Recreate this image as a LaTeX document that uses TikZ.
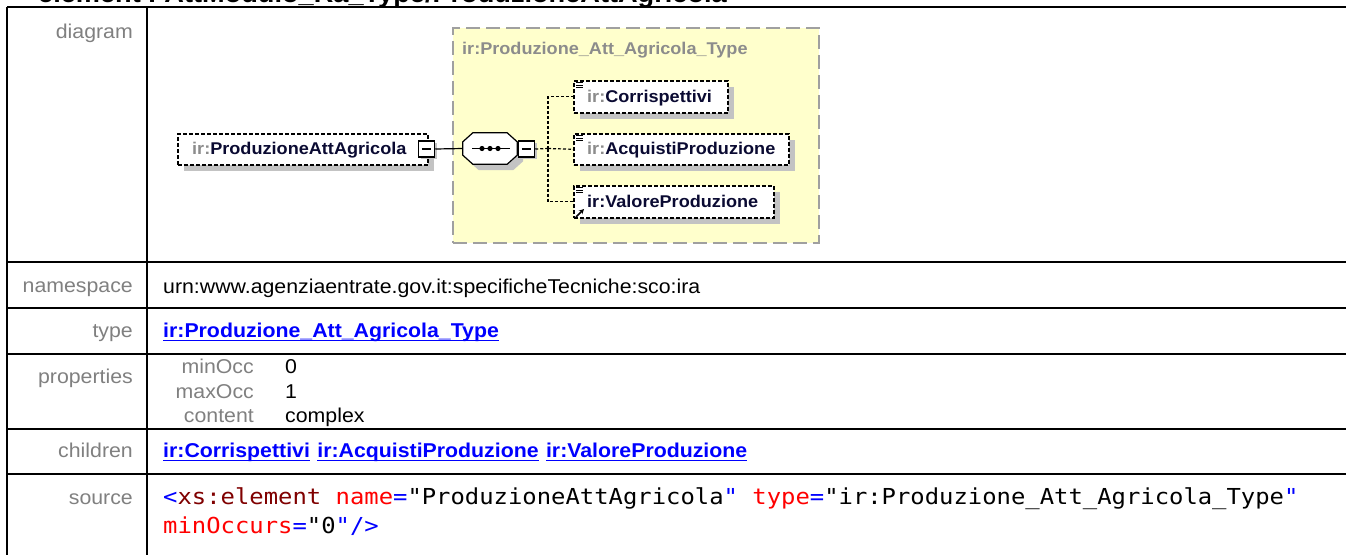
\documentclass[tikz,border=0pt]{standalone}
\usepackage{fontspec}
\usepackage{graphicx}
\setmainfont{Liberation Sans}
\setmonofont{DejaVu Sans Mono}
\usetikzlibrary{shadows,calc,arrows.meta}
\definecolor{lblgray}{RGB}{128,128,128}
\definecolor{linkblue}{RGB}{0,0,255}
\definecolor{navy}{RGB}{10,10,50}
\definecolor{irgray}{RGB}{140,140,140}
\definecolor{ctfill}{RGB}{255,255,204}
\definecolor{ctborder}{RGB}{160,160,160}
\definecolor{shadowc}{RGB}{195,195,195}
\definecolor{xmaroon}{RGB}{128,0,0}
\definecolor{xred}{RGB}{255,0,0}
\newcommand\sx[1]{\scalebox{1.065}[1]{#1}}
\newcommand\sxc[1]{\scalebox{1.085}[1]{#1}}
\tikzset{
  grid/.style={line width=2pt, black},
  lbl/.style={anchor=mid east, inner sep=0, text=lblgray, font=\fontsize{20}{24}\selectfont},
  val/.style={anchor=mid west, inner sep=0, font=\fontsize{20}{24}\selectfont},
  link/.style={anchor=mid west, inner sep=0, text=linkblue, font=\fontsize{20}{24}\selectfont\bfseries},
  uline/.style={linkblue, line width=1.6pt},
  code/.style={anchor=mid west, inner sep=0, font=\fontsize{22}{28}\ttfamily},
  elbox/.style={draw, dash pattern=on 4pt off 2pt, line width=1.5pt, fill=white, inner sep=0,
     drop shadow={shadow xshift=6pt, shadow yshift=-6pt, fill=shadowc, opacity=1}},
  eltext/.style={anchor=mid west, inner sep=0, font=\fontsize{17}{20}\selectfont\bfseries, text=navy},
  minusbox/.style={draw, line width=1.5pt, fill=white, minimum width=16pt, minimum height=16pt, inner sep=0,
     drop shadow={shadow xshift=2pt, shadow yshift=-2pt, fill=shadowc, opacity=1}},
  conn/.style={line width=1.2pt},
  dconn/.style={line width=1.2pt, dash pattern=on 3pt off 2pt},
  icon/.style={line width=0.9pt},
}
\begin{document}
\begin{tikzpicture}[x=1pt,y=-1pt]
\useasboundingbox (0,0) rectangle (1346,555);
\fill[white] (0,0) rectangle (1346,555);
% clipped title
\begin{scope}
\clip (0,0) rectangle (1346,555);
\node[anchor=base west, inner sep=0, font=\fontsize{25.5}{30}\selectfont\bfseries] (ttl) at (38,2.5) {\sx{element PAttModulo\_Ra\_Type/ProduzioneAttAgricola}};
\end{scope}
% table grid
\draw[grid] (7,7) -- (1346,7);
\draw[grid] (7,7) -- (7,555);
\draw[grid] (147,7) -- (147,555);
\foreach \yy in {262,308,354,429,474} \draw[grid] (7,\yy) -- (1346,\yy);
% labels
\node[lbl] (ldiag) at (133,36) {\sx{diagram}};
\node[lbl] (lns) at (133,290) {\sx{namespace}};
\node[lbl] (ltype) at (133,335) {\sx{type}};
\node[lbl] (lprop) at (133,381) {\sx{properties}};
\node[lbl] (lchild) at (133,455) {\sx{children}};
\node[lbl] (lsrc) at (133,502) {\sx{source}};
% values
\node[val] (vns) at (163,291) {\sx{urn:www.agenziaentrate.gov.it:specificheTecniche:sco:ira}};
\node[link] (vtype) at (163,335) {\sx{ir:Produzione\_Att\_Agricola\_Type}};
\draw[uline] ([yshift=-3pt]vtype.base west) -- ([yshift=-3pt]vtype.base east);
\node[lbl] (pmin) at (254,371) {\sx{minOcc}};
\node[val] (vmin) at (285,371) {\sx{0}};
\node[lbl] (pmax) at (254,396) {\sx{maxOcc}};
\node[val] (vmax) at (285,396) {\sx{1}};
\node[lbl] (pcont) at (254,420) {\sx{content}};
\node[val] (vcont) at (285,420) {\sx{complex}};
\node[link] (k1) at (163,455) {\sx{ir:Corrispettivi}};
\node[link, anchor=base west] (k2) at ([xshift=7pt]k1.base east) {\sx{ir:AcquistiProduzione}};
\node[link, anchor=base west] (k3) at ([xshift=7pt]k2.base east) {\sx{ir:ValoreProduzione}};
\foreach \k in {k1,k2,k3} \draw[uline] ([yshift=-3pt]\k.base west) -- ([yshift=-3pt]\k.base east);
\node[code] (src1) at (163,502) {\sxc{{\color{linkblue}<}{\color{xmaroon}xs:element} {\color{xred}name}{\color{linkblue}=}"ProduzioneAttAgricola{\color{linkblue}"} {\color{xred}type}{\color{linkblue}=}"ir:Produzione\_Att\_Agricola\_Type{\color{linkblue}"}}};
\node[code] (src2) at (163,531) {\sxc{{\color{xred}minOccurs}{\color{linkblue}=}"0{\color{linkblue}"/>}}};
% diagram: complex type container
\node[draw=ctborder, fill=ctfill, dash pattern=on 14pt off 6pt, line width=1.5pt, minimum width=366pt, minimum height=215pt, anchor=north west, inner sep=0] (ct) at (452,27) {};
\node[anchor=mid west, inner sep=0, font=\fontsize{17}{20}\selectfont\bfseries, text=irgray] (ctt) at (462,52) {\sx{ir:Produzione\_Att\_Agricola\_Type}};
% element
\node[elbox, minimum width=250pt, minimum height=31pt, anchor=north west] (el) at (177,133) {};
\node[eltext] (elt) at (192,152) {\sx{\textcolor{irgray}{ir:}ProduzioneAttAgricola}};
\node[minusbox] (elm) at (426.5,149) {};
\draw[line width=1.5pt] ([xshift=4pt]elm.west) -- ([xshift=-4pt]elm.east);
% sequence compositor
\node[minimum width=54pt, minimum height=31pt, inner sep=0] (seq) at (490,148.5) {};
\fill[shadowc] ($(seq.north west)+(16,6)$) -- ($(seq.north east)+(-4,6)$) -- ($(seq.north east)+(6,15)$) -- ($(seq.south east)+(6,-3)$) -- ($(seq.south east)+(-4,6)$) -- ($(seq.south west)+(16,6)$) -- ($(seq.south west)+(6,-3)$) -- ($(seq.north west)+(6,15)$) -- cycle;
\draw[line width=1.2pt, fill=white] ($(seq.north west)+(10,0)$) -- ($(seq.north east)+(-10,0)$) -- ($(seq.north east)+(0,9)$) -- ($(seq.south east)+(0,-9)$) -- ($(seq.south east)+(-10,0)$) -- ($(seq.south west)+(10,0)$) -- ($(seq.south west)+(0,-9)$) -- ($(seq.north west)+(0,9)$) -- cycle;
\draw[line width=1.2pt] ($(seq.center)+(-18,0)$) -- ($(seq.center)+(20,0)$);
\foreach \dx in {-8,0,8} \fill ($(seq.center)+(\dx,0)$) circle (2.6pt);
\node[minusbox] (sm) at (526.5,149) {};
\draw[line width=1.5pt] ([xshift=4pt]sm.west) -- ([xshift=-4pt]sm.east);
\draw[conn] (elm.east) -- (seq.west);
% children
\node[elbox, minimum width=154pt, minimum height=32pt, anchor=north west] (c1) at (573,80) {};
\node[elbox, minimum width=215pt, minimum height=31pt, anchor=north west] (c2) at (573,133) {};
\node[elbox, minimum width=200pt, minimum height=32pt, anchor=north west] (c3) at (573,185) {};
\node[eltext] (t1) at (587,100) {\sx{\textcolor{irgray}{ir:}Corrispettivi}};
\node[eltext] (t2) at (587,152) {\sx{\textcolor{irgray}{ir:}AcquistiProduzione}};
\node[eltext] (t3) at (587,204.5) {\sx{ir:ValoreProduzione}};
\foreach \c in {c1,c2,c3}{
  \foreach \dy in {2.5,5,7.5}
    \draw[icon] ($(\c.north west)+(3,\dy)$) -- ++(7,0);
}
\draw[line width=1.5pt, -{Stealth[length=5pt,width=5pt]}] ($(c3.south west)+(3,-1.5)$) -- ($(c3.south west)+(11,-9.5)$);
\coordinate (br) at (548,148.5);
\draw[dconn] (sm.east) -- (br);
\draw[dconn] (br) |- (c1.west);
\draw[dconn] (br) -- (c2.west);
\draw[dconn] (br) |- (c3.west);
\end{tikzpicture}
\end{document}
